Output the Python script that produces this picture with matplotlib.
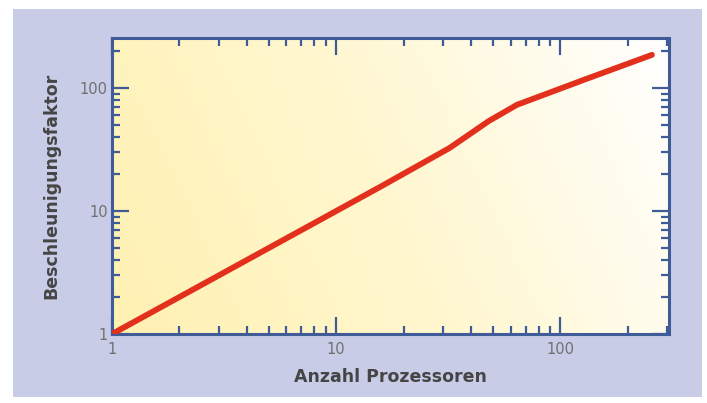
import numpy as np
import matplotlib
matplotlib.use("Agg")
import matplotlib.pyplot as plt
from matplotlib.patches import Rectangle
from matplotlib.colors import LinearSegmentedColormap

processors = [1, 2, 4, 8, 16, 32, 48, 64, 128, 256]
speedup = [1, 2, 4, 8, 16, 32.5, 54, 73, 117, 186]
xticks = [1, 10, 100]
xticklabels = ["1", "10", "100"]
yticks = [1, 10, 100]
yticklabels = ["1", "10", "100"]
xlabel = "Anzahl Prozessoren"
ylabel = "Beschleunigungsfaktor"

W, H = 707, 403
fig = plt.figure(figsize=(W / 100, H / 100), dpi=100, facecolor="white")
bg = Rectangle((13 / W, 6 / H), (702 - 13) / W, (394 - 6) / H,
               transform=fig.transFigure, facecolor="#c8cce6",
               edgecolor="none", zorder=-10)
fig.add_artist(bg)

left, right, top, bottom = 112, 669, 38, 334
ax = fig.add_axes([left / W, 1 - bottom / H, (right - left) / W, (bottom - top) / H])
ax.set_zorder(5)
ax.set_xscale("log")
ax.set_yscale("log")
ax.set_xlim(1, 305)
ax.set_ylim(1, 255)

# gradient background
nx, ny = 200, 100
gx = np.linspace(0, 1, nx)[None, :]
gy = np.linspace(0, 1, ny)[:, None]
g = np.clip(0.8 * gx + 0.2 * gy, 0, 1)
cmap = LinearSegmentedColormap.from_list("bg", ["#fff1b2", "#fff7d0", "#ffffff"])
ax.imshow(g, cmap=cmap, origin="lower", aspect="auto",
          extent=[0, 1, 0, 1], transform=ax.transAxes, zorder=0, vmin=0, vmax=1)

ax.plot(processors, speedup, color="#e2301c", lw=4.2, solid_capstyle="round",
        solid_joinstyle="round", zorder=3)

fc = "#3f5b98"
for s in ax.spines.values():
    s.set_color(fc)
    s.set_linewidth(2.2)
ax.tick_params(which="both", direction="in", top=True, right=True, color=fc,
               labelcolor="#707070", labelsize=10.5)
ax.tick_params(which="major", length=12, width=1.6)
ax.tick_params(which="minor", length=6, width=1.6)
ax.set_xticks(xticks)
ax.set_xticklabels(xticklabels)
ax.set_yticks(yticks)
ax.set_yticklabels(yticklabels)
ax.tick_params(axis="x", pad=6)
ax.tick_params(axis="y", pad=3)
ax.set_xlabel(xlabel, fontsize=12.5, fontweight="bold", color="#454545", labelpad=8)
ax.set_ylabel(ylabel, fontsize=12.5, fontweight="bold", color="#454545", labelpad=14)

fig.savefig("out.png", dpi=100, facecolor="white")
